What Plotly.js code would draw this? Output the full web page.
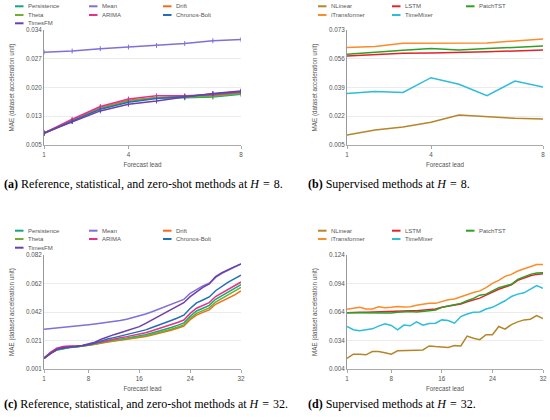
<!DOCTYPE html>
<html>
<head>
<meta charset="utf-8">
<script src="https://cdn.plot.ly/plotly-3.0.1.min.js"></script>
<style>html,body{margin:0;padding:0;background:#fff;}#chart{width:550px;height:420px;}</style>
</head>
<body>
<div id="chart"></div>
<script>
// ---------- data ----------
var leads8 = [1, 2, 3, 4, 5, 6, 7, 8];
var leads32 = [1, 2, 3, 4, 5, 6, 7, 8, 9, 10, 11, 12, 13, 14, 15, 16, 17, 18, 19, 20, 21, 22, 23, 24, 25, 26, 27, 28, 29, 30, 31, 32];

var namesRef = ["Persistence", "Mean", "Drift", "Theta", "ARIMA", "Chronos-Bolt", "TimesFM"];
var colorsRef = ["#16a67e", "#8070d8", "#f26a1c", "#72ad2c", "#ea2f88", "#1f70b6", "#6e3fa8"];
var namesSup = ["NLinear", "LSTM", "PatchTST", "iTransformer", "TimeMixer"];
var colorsSup = ["#b5852a", "#e3232c", "#2f9f25", "#fb8c28", "#2cbdd9"];

// (a) H = 8, reference / statistical / zero-shot
var persistence8 = [0.0080, 0.0111, 0.0143, 0.0161, 0.0169, 0.0169, 0.0171, 0.0178];
var mean8        = [0.0284, 0.0287, 0.0293, 0.0297, 0.0301, 0.0306, 0.0313, 0.0316];
var drift8       = [0.0079, 0.0111, 0.0144, 0.0163, 0.0169, 0.0172, 0.0175, 0.0182];
var theta8       = [0.0079, 0.0111, 0.0143, 0.0161, 0.0169, 0.0171, 0.0173, 0.0180];
var arima8       = [0.0080, 0.0115, 0.0147, 0.0166, 0.0174, 0.0174, 0.0177, 0.0183];
var chronos8     = [0.0080, 0.0110, 0.0140, 0.0158, 0.0167, 0.0172, 0.0179, 0.0185];
var timesfm8     = [0.0080, 0.0109, 0.0136, 0.0153, 0.0161, 0.0171, 0.0180, 0.0186];

// (b) H = 8, supervised
var nlinear8      = [0.0109, 0.0139, 0.0156, 0.0184, 0.0227, 0.0216, 0.0208, 0.0204];
var lstm8         = [0.0576, 0.0584, 0.0592, 0.0594, 0.0596, 0.0602, 0.0606, 0.0612];
var patchtst8     = [0.0586, 0.0600, 0.0610, 0.0620, 0.0612, 0.0620, 0.0626, 0.0635];
var itransformer8 = [0.0626, 0.0633, 0.0651, 0.0651, 0.0653, 0.0653, 0.0665, 0.0677];
var timemixer8    = [0.0354, 0.0367, 0.0361, 0.0448, 0.0409, 0.0342, 0.0428, 0.0393];

// (c) H = 32, reference / statistical / zero-shot
var persistence32 = [0.0086, 0.0122, 0.0145, 0.0155, 0.0162, 0.0166, 0.0172, 0.0180, 0.0188, 0.0199, 0.0209, 0.0215, 0.0222, 0.0229, 0.0236, 0.0244, 0.0254, 0.0266, 0.0278, 0.0291, 0.0305, 0.0320, 0.0337, 0.0385, 0.0422, 0.0442, 0.0462, 0.0505, 0.0532, 0.0558, 0.0582, 0.0610];
var mean32        = [0.0292, 0.0296, 0.0300, 0.0306, 0.0310, 0.0314, 0.0319, 0.0325, 0.0330, 0.0335, 0.0340, 0.0346, 0.0354, 0.0364, 0.0375, 0.0387, 0.0401, 0.0417, 0.0435, 0.0453, 0.0469, 0.0484, 0.0505, 0.0548, 0.0576, 0.0600, 0.0619, 0.0661, 0.0690, 0.0713, 0.0732, 0.0756];
var drift32       = [0.0086, 0.0124, 0.0150, 0.0160, 0.0165, 0.0168, 0.0172, 0.0179, 0.0186, 0.0195, 0.0203, 0.0209, 0.0214, 0.0220, 0.0226, 0.0233, 0.0241, 0.0251, 0.0261, 0.0272, 0.0285, 0.0299, 0.0315, 0.0360, 0.0393, 0.0412, 0.0430, 0.0470, 0.0493, 0.0513, 0.0536, 0.0565];
var theta32       = [0.0086, 0.0122, 0.0145, 0.0155, 0.0162, 0.0166, 0.0171, 0.0178, 0.0186, 0.0196, 0.0205, 0.0211, 0.0217, 0.0223, 0.0229, 0.0237, 0.0246, 0.0257, 0.0268, 0.0280, 0.0293, 0.0307, 0.0323, 0.0370, 0.0405, 0.0425, 0.0444, 0.0486, 0.0512, 0.0535, 0.0558, 0.0590];
var arima32       = [0.0086, 0.0128, 0.0158, 0.0170, 0.0173, 0.0172, 0.0175, 0.0182, 0.0192, 0.0205, 0.0217, 0.0224, 0.0232, 0.0240, 0.0248, 0.0256, 0.0268, 0.0282, 0.0296, 0.0310, 0.0325, 0.0340, 0.0358, 0.0405, 0.0442, 0.0462, 0.0482, 0.0525, 0.0552, 0.0578, 0.0600, 0.0628];
var chronos32     = [0.0086, 0.0121, 0.0148, 0.0158, 0.0164, 0.0168, 0.0173, 0.0182, 0.0194, 0.0210, 0.0223, 0.0233, 0.0243, 0.0253, 0.0263, 0.0273, 0.0288, 0.0305, 0.0320, 0.0338, 0.0355, 0.0372, 0.0392, 0.0440, 0.0480, 0.0500, 0.0522, 0.0566, 0.0598, 0.0628, 0.0652, 0.0676];
var timesfm32     = [0.0086, 0.0121, 0.0150, 0.0162, 0.0169, 0.0171, 0.0177, 0.0186, 0.0200, 0.0221, 0.0240, 0.0254, 0.0268, 0.0282, 0.0297, 0.0311, 0.0334, 0.0358, 0.0382, 0.0405, 0.0429, 0.0453, 0.0481, 0.0524, 0.0559, 0.0590, 0.0614, 0.0666, 0.0694, 0.0718, 0.0737, 0.0756];

// (d) H = 32, supervised
var nlinear32      = [0.0151, 0.0196, 0.0196, 0.0189, 0.0224, 0.0224, 0.0210, 0.0196, 0.0231, 0.0231, 0.0234, 0.0238, 0.0241, 0.0283, 0.0276, 0.0272, 0.0266, 0.0286, 0.0283, 0.0387, 0.0363, 0.0349, 0.0401, 0.0401, 0.0488, 0.0460, 0.0508, 0.0536, 0.0557, 0.0564, 0.0602, 0.0571];
var lstm32         = [0.0633, 0.0637, 0.0637, 0.0637, 0.0640, 0.0644, 0.0644, 0.0647, 0.0647, 0.0651, 0.0654, 0.0654, 0.0661, 0.0665, 0.0672, 0.0689, 0.0703, 0.0713, 0.0724, 0.0748, 0.0769, 0.0786, 0.0817, 0.0852, 0.0880, 0.0904, 0.0925, 0.0973, 0.1001, 0.1022, 0.1036, 0.1043];
var patchtst32     = [0.0633, 0.0633, 0.0633, 0.0626, 0.0630, 0.0633, 0.0633, 0.0630, 0.0637, 0.0644, 0.0644, 0.0640, 0.0651, 0.0654, 0.0661, 0.0689, 0.0703, 0.0720, 0.0731, 0.0758, 0.0783, 0.0817, 0.0828, 0.0862, 0.0897, 0.0914, 0.0932, 0.0984, 0.1008, 0.1036, 0.1050, 0.1053];
var itransformer32 = [0.0668, 0.0682, 0.0689, 0.0672, 0.0672, 0.0696, 0.0685, 0.0689, 0.0699, 0.0692, 0.0696, 0.0710, 0.0724, 0.0731, 0.0731, 0.0751, 0.0769, 0.0776, 0.0800, 0.0817, 0.0845, 0.0862, 0.0897, 0.0942, 0.0973, 0.1015, 0.1036, 0.1071, 0.1095, 0.1119, 0.1140, 0.1140];
var timemixer32    = [0.0488, 0.0453, 0.0443, 0.0456, 0.0463, 0.0491, 0.0515, 0.0498, 0.0453, 0.0502, 0.0495, 0.0536, 0.0502, 0.0519, 0.0522, 0.0557, 0.0550, 0.0522, 0.0592, 0.0619, 0.0637, 0.0640, 0.0672, 0.0689, 0.0724, 0.0758, 0.0803, 0.0828, 0.0842, 0.0880, 0.0918, 0.0890];

// tick labels
var xticks8 = [1, 4, 8];
var xticks32 = [1, 8, 16, 24, 32];
var yticksA = ["0.005", "0.013", "0.020", "0.027", "0.034"];
var yticksB = ["0.005", "0.022", "0.039", "0.056", "0.073"];
var yticksC = ["0.001", "0.021", "0.042", "0.062", "0.082"];
var yticksD = ["0.004", "0.034", "0.064", "0.094", "0.124"];

var xTitle = "Forecast lead";
var yTitle = "MAE (dataset acceleration unit)";
var captions = [
  "<b>(a)</b> Reference, statistical, and zero-shot methods at <i>H</i>\u2004=\u20048.",
  "<b>(b)</b> Supervised methods at <i>H</i>\u2004=\u20048.",
  "<b>(c)</b> Reference, statistical, and zero-shot methods at <i>H</i>\u2004=\u200432.",
  "<b>(d)</b> Supervised methods at <i>H</i>\u2004=\u200432."
];

// ---------- build ----------
var W = 550, H = 420;
function px(x) { return x / W; }
function py(y) { return 1 - y / H; }

var refA = [persistence8, mean8, drift8, theta8, arima8, chronos8, timesfm8];
var supB = [nlinear8, lstm8, patchtst8, itransformer8, timemixer8];
var refC = [persistence32, mean32, drift32, theta32, arima32, chronos32, timesfm32];
var supD = [nlinear32, lstm32, patchtst32, itransformer32, timemixer32];

var traces = [];
function addSet(vals, names, colors, xs, xa, ya, markers) {
  for (var i = 0; i < vals.length; i++) {
    var t = {
      type: "scatter", x: xs, y: vals[i], name: names[i],
      xaxis: xa, yaxis: ya, showlegend: false,
      mode: markers ? "lines+markers" : "lines",
      line: { color: colors[i], width: 1.5 }
    };
    if (markers) t.marker = { symbol: "line-ns-open", size: 3.5, color: colors[i], line: { color: colors[i], width: 1 } };
    traces.push(t);
  }
}
addSet(refA, namesRef, colorsRef, leads8, "x", "y", true);
addSet(supB, namesSup, colorsSup, leads8, "x2", "y2", false);
addSet(refC, namesRef, colorsRef, leads32, "x3", "y3", false);
addSet(supD, namesSup, colorsSup, leads32, "x4", "y4", false);

var tickFont = { family: "Liberation Sans, Arial, sans-serif", size: 6.3, color: "#555" };
function xAxis(dom, range, ticks, anchor) {
  return {
    domain: dom, range: range, anchor: anchor, tickvals: ticks, ticktext: ticks.map(String),
    showgrid: false, zeroline: false, showline: true, linecolor: "#aaa", linewidth: 1,
    ticks: "outside", ticklen: 3, tickcolor: "#aaa", tickfont: tickFont,
    title: { text: xTitle, font: tickFont, standoff: 6 }, automargin: false, fixedrange: true
  };
}
function yAxis(dom, lo, hi, labels, anchor) {
  var step = (hi - lo) / (labels.length - 1);
  var vals = labels.map(function (s, i) { return lo + i * step; });
  return {
    domain: dom, range: [lo, hi], anchor: anchor, tickvals: vals, ticktext: labels,
    showgrid: true, gridcolor: "#ececec", gridwidth: 1, zeroline: false,
    showline: true, linecolor: "#999", linewidth: 1, ticks: "", tickfont: tickFont,
    title: { text: yTitle, font: tickFont, standoff: 10 }, automargin: false, fixedrange: true
  };
}

var xdomL = [px(44), px(241)], xdomR = [px(347), px(543)];
var ydomT = [py(145), py(30)], ydomB = [py(369), py(255)];

var layout = {
  width: W, height: H, margin: { l: 0, r: 0, t: 0, b: 0 },
  paper_bgcolor: "#fff", plot_bgcolor: "#fff", showlegend: false,
  font: { family: "Liberation Sans, Arial, sans-serif", color: "#555" },
  xaxis: xAxis(xdomL, [1, 8], xticks8, "y"),
  yaxis: yAxis(ydomT, 0.005, 0.034, yticksA, "x"),
  xaxis2: xAxis(xdomR, [1, 8], xticks8, "y2"),
  yaxis2: yAxis(ydomT, 0.005, 0.073, yticksB, "x2"),
  xaxis3: xAxis(xdomL, [1, 32], xticks32, "y3"),
  yaxis3: yAxis(ydomB, 0.001, 0.082, yticksC, "x3"),
  xaxis4: xAxis(xdomR, [1, 32], xticks32, "y4"),
  yaxis4: yAxis(ydomB, 0.004, 0.124, yticksD, "x4"),
  shapes: [], annotations: []
};

// manual legends built from the names / colours
function addLegend(names, colors, colX, rowY) {
  for (var i = 0; i < names.length; i++) {
    var c = i % 3, r = Math.floor(i / 3);
    var tx = colX[c], ty = rowY[r];
    layout.shapes.push({ type: "line", xref: "paper", yref: "paper",
      x0: px(tx - 11), x1: px(tx - 2.5), y0: py(ty), y1: py(ty),
      line: { color: colors[i], width: 2 } });
    layout.annotations.push({ xref: "paper", yref: "paper", x: px(tx), y: py(ty),
      xanchor: "left", yanchor: "middle", showarrow: false, text: names[i],
      font: { family: "Liberation Sans, Arial, sans-serif", size: 6, color: "#555" } });
  }
}
addLegend(namesRef, colorsRef, [26, 100, 174], [6.3, 15, 23.3]);
addLegend(namesSup, colorsSup, [329, 403, 477], [6.3, 15]);
addLegend(namesRef, colorsRef, [26, 100, 174], [230.7, 239, 247.7]);
addLegend(namesSup, colorsSup, [329, 403, 477], [230.7, 239]);

var capPos = [[2, 184], [306, 184], [2, 404], [306, 404]];
for (var k = 0; k < captions.length; k++) {
  layout.annotations.push({ xref: "paper", yref: "paper", x: px(capPos[k][0]), y: py(capPos[k][1]),
    xanchor: "left", yanchor: "middle", showarrow: false, text: captions[k],
    font: { family: "Liberation Serif, Times New Roman, serif", size: 12, color: "#000" } });
}

Plotly.newPlot("chart", traces, layout, { staticPlot: true, displayModeBar: false });
</script>
</body>
</html>
